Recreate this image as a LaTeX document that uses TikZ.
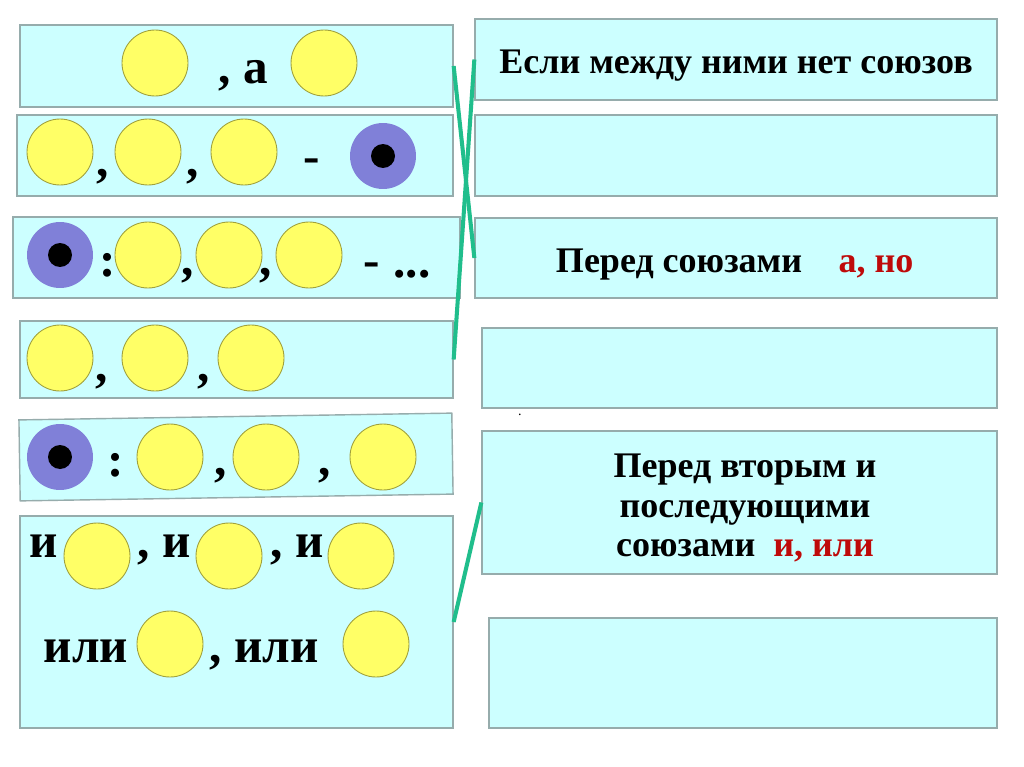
\documentclass[tikz,border=0pt]{standalone}
\usepackage{fontspec}
\setmainfont{Liberation Serif}
\usepackage{xcolor}
\definecolor{boxfill}{RGB}{204,255,255}
\definecolor{boxline}{RGB}{150,172,172}
\definecolor{yelfill}{RGB}{255,255,102}
\definecolor{yelline}{RGB}{160,160,60}
\definecolor{purfill}{RGB}{128,128,216}
\definecolor{linkgreen}{RGB}{32,190,140}
\definecolor{conjred}{RGB}{190,10,10}

\begin{document}
\begin{tikzpicture}[x=0.02cm, y=-0.02cm,
  box/.style={rectangle, draw=boxline, fill=boxfill, line width=0.8pt, inner sep=0pt},
  yel/.style={circle, draw=yelline, fill=yelfill, line width=0.5pt, minimum size=1.32cm, inner sep=0pt},
  pur/.style={circle, fill=purfill, minimum size=1.32cm, inner sep=0pt},
  core/.style={circle, fill=black, minimum size=0.48cm, inner sep=0pt},
  pun/.style={font=\fontsize{28}{32}\selectfont\bfseries, inner sep=0pt, anchor=base},
  hint/.style={font=\fontsize{20.5}{22.7}\selectfont\bfseries, inner sep=0pt, align=center},
  link/.style={line width=2.3pt, draw=linkgreen}
]
\useasboundingbox[fill=white] (0,0) rectangle (1024,767);
\node[box, minimum width=8.66cm, minimum height=1.64cm] (l1) at (236.5,66) {};
\node[yel] (l1a) at (155,63) {};
\node[yel] (l1b) at (324,63) {};
\node[pun] (l1t) at (243,84) {, а};
\node[box, minimum width=8.72cm, minimum height=1.62cm] (l2) at (235,155.5) {};
\node[yel] (l2a) at (60,152) {};
\node[yel] (l2b) at (148,152) {};
\node[yel] (l2c) at (244,152) {};
\node[pur] (l2d) at (383,156) {};
\node[core] (l2e) at (l2d) {};
\node[pun] (l2p1) at (103,176) {,};
\node[pun] (l2p2) at (193,176) {,};
\node[pun] (l2p3) at (312,173) {-};
\node[box, minimum width=8.94cm, minimum height=1.62cm] (l3) at (236.5,257.5) {};
\node[pur] (l3a) at (60,255) {};
\node[core] (l3b) at (l3a) {};
\node[yel] (l3c) at (148,255) {};
\node[yel] (l3d) at (229,255) {};
\node[yel] (l3e) at (309,255) {};
\node[pun] (l3p1) at (108,276) {:};
\node[pun] (l3p2) at (188,275) {,};
\node[pun] (l3p3) at (266,275) {,};
\node[pun] (l3p4) at (372,276) {-};
\node[pun] (l3p5) at (412,277) {...};
\node[box, minimum width=8.66cm, minimum height=1.54cm] (l4) at (236.5,359.5) {};
\node[yel] (l4a) at (60,358) {};
\node[yel] (l4b) at (155,358) {};
\node[yel] (l4c) at (251,358) {};
\node[pun] (l4p1) at (102,381) {,};
\node[pun] (l4p2) at (204,381) {,};
\node[box, minimum width=8.66cm, minimum height=1.62cm, rotate=0.9] (l5) at (236,457) {};
\node[pur] (l5a) at (60,457) {};
\node[core] (l5b) at (l5a) {};
\node[yel] (l5c) at (170,457) {};
\node[yel] (l5d) at (266,457) {};
\node[yel] (l5e) at (383,457) {};
\node[pun] (l5p1) at (116,476) {:};
\node[pun] (l5p2) at (221,475) {,};
\node[pun] (l5p3) at (325,475) {,};
\node[box, minimum width=8.66cm, minimum height=4.24cm] (l6) at (236.5,622) {};
\node[pun] (l6p1) at (44,557) {и};
\node[yel] (l6a) at (97,556) {};
\node[pun] (l6p2) at (164,557) {, и};
\node[yel] (l6b) at (229,556) {};
\node[pun] (l6p3) at (297,557) {, и};
\node[yel] (l6c) at (361,556) {};
\node[pun] (l6p4) at (86,662) {или};
\node[yel] (l6d) at (170,644) {};
\node[pun] (l6p5) at (264,662) {, или};
\node[yel] (l6e) at (376,644) {};
\node[box, minimum width=10.44cm, minimum height=1.62cm] (r1) at (736,59.5) {};
\node[hint, anchor=base] (r1t) at (736,73) {Если между ними нет союзов};
\node[box, minimum width=10.44cm, minimum height=1.62cm] (r2) at (736,155.5) {};
\node[box, minimum width=10.44cm, minimum height=1.60cm] (r3) at (736,258) {};
\node[hint, anchor=base] (r3t) at (679,272) {Перед союзами};
\node[hint, anchor=base, text=conjred] (r3c) at (876,272) {а, но};
\node[box, minimum width=10.30cm, minimum height=1.60cm] (r4) at (739.5,368) {};
\node[font=\fontsize{8}{8}\selectfont, inner sep=0pt, anchor=base] (r4s) at (520,415) {.};
\node[box, minimum width=10.30cm, minimum height=2.86cm] (r5) at (739.5,502.5) {};
\node[hint] (r5t) at (745,508) {Перед вторым и\\последующими\\союзами\ \ \textcolor{conjred}{и, или}};
\node[box, minimum width=10.16cm, minimum height=2.20cm] (r6) at (743,673) {};
\draw[link] (l1.east) -- (r3.west);
\draw[link] (r1.west) -- (l4.east);
\draw[link] (r5.west) -- (l6.east);
\end{tikzpicture}
\end{document}
